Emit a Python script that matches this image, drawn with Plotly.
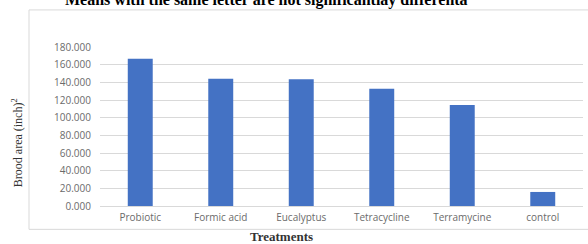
import plotly.graph_objects as go

categories = ["Probiotic", "Formic acid", "Eucalyptus", "Tetracycline", "Terramycine", "control"]
brood_area = [166.7, 144.0, 143.5, 132.6, 114.4, 15.9]
y_ticks = [0, 20, 40, 60, 80, 100, 120, 140, 160, 180]

W, H = 588, 244
L, R, T, B = 100, 5, 47, 38.3
pw, ph = W - L - R, H - T - B

def px_x(x):
    return (x - L) / pw

def px_y(y):
    return (H - B - y) / ph

fig = go.Figure(go.Bar(x=categories, y=brood_area, marker_color="#4472C4",
                       marker_line_width=0))

fig.update_layout(
    width=W, height=H,
    margin=dict(l=L, r=R, t=T, b=B, autoexpand=False),
    paper_bgcolor="white", plot_bgcolor="white",
    bargap=0.69,
    showlegend=False,
    font=dict(family="Open Sans", size=10, color="#595959"),
)
fig.update_yaxes(range=[0, 180], tickvals=y_ticks, tickformat=".3f",
                 showgrid=True, gridcolor="#d9d9d9", gridwidth=1,
                 zeroline=False, showline=False, ticks="",
                 automargin=False, ticklabelstandoff=8,
                 tickfont=dict(family="Open Sans", size=10, color="#6b6b6b"))
fig.update_xaxes(showline=True, linecolor="#d9d9d9", linewidth=1, ticks="",
                 automargin=False, ticklabelstandoff=2,
                 tickfont=dict(family="Open Sans", size=10, color="#6b6b6b"))

# outer chart frame
fig.add_shape(type="rect", xref="paper", yref="paper",
              x0=px_x(29), x1=px_x(640), y0=px_y(229), y1=px_y(10),
              line=dict(color="#d9d9d9", width=1), fillcolor="rgba(0,0,0,0)",
              layer="below")

# title (partly cut at top, as in the reference)
fig.add_annotation(text="<b>Means with the same letter are not significantlay differenta</b>",
                   xref="paper", yref="paper", x=px_x(266), y=px_y(11),
                   xanchor="center", yanchor="bottom", showarrow=False,
                   font=dict(family="Liberation Serif", size=16, color="black"))

# y-axis title
fig.add_annotation(text="Brood area (inch)<sup>2</sup>", xref="paper", yref="paper",
                   x=px_x(17), y=px_y(143), textangle=-90, showarrow=False,
                   xanchor="center", yanchor="middle",
                   font=dict(family="Liberation Serif", size=12, color="#333333"))

# x-axis title
fig.add_annotation(text="<b>Treatments</b>", xref="paper", yref="paper",
                   x=px_x(281), y=px_y(236.5), showarrow=False,
                   xanchor="center", yanchor="middle",
                   font=dict(family="Liberation Serif", size=13, color="#333333"))

fig.write_html("out.html", config={"displayModeBar": False},
               post_script="document.body.style.margin='0';document.body.style.overflow='hidden';")
